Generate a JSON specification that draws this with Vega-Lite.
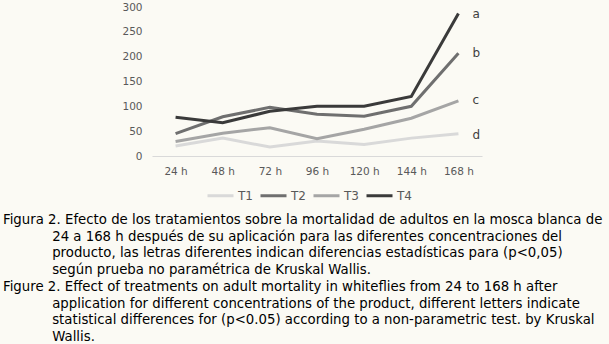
{
  "$schema": "https://vega.github.io/schema/vega-lite/v6.json",
  "width": 330,
  "height": 149,
  "autosize": {"type": "none"},
  "padding": {"left": 152, "top": 7, "right": 127, "bottom": 188},
  "background": "#fbfaf4",
  "config": {
    "view": {"stroke": null},
    "font": "DejaVu Sans",
    "axis": {"labelColor": "#595959", "labelFont": "DejaVu Sans", "labelFontSize": 10.5, "grid": false, "ticks": false, "title": null}
  },
  "title": {
    "text": [
      "Figura 2. Efecto de los tratamientos sobre la mortalidad de adultos en la mosca blanca de",
      "\u200b\u2007\u2007\u2007\u2007\u2007\u00a0\u200924 a 168 h después de su aplicación para las diferentes concentraciones del",
      "\u200b\u2007\u2007\u2007\u2007\u2007\u00a0\u2009producto, las letras diferentes indican diferencias estadísticas para (p<0,05)",
      "\u200b\u2007\u2007\u2007\u2007\u2007\u00a0\u2009según prueba no paramétrica de Kruskal Wallis.",
      "Figure 2. Effect of treatments on adult mortality in whiteflies from 24 to 168 h after",
      "\u200b\u2007\u2007\u2007\u2007\u2007\u00a0\u2009application for different concentrations of the product, different letters indicate",
      "\u200b\u2007\u2007\u2007\u2007\u2007\u00a0\u2009statistical differences for (p<0.05) according to a non-parametric test. by Kruskal",
      "\u200b\u2007\u2007\u2007\u2007\u2007\u00a0\u2009Wallis."
    ],
    "orient": "bottom",
    "anchor": "start",
    "frame": "group",
    "dx": -149,
    "offset": 11,
    "font": "DejaVu Sans",
    "fontSize": 13.3,
    "fontWeight": "normal",
    "color": "#000000",
    "lineHeight": 16.7,
    "baseline": "top"
  },
  "data": {
    "values": [
      {"time": "24 h", "series": "T1", "value": 20},
      {"time": "48 h", "series": "T1", "value": 36},
      {"time": "72 h", "series": "T1", "value": 18},
      {"time": "96 h", "series": "T1", "value": 30},
      {"time": "120 h", "series": "T1", "value": 23},
      {"time": "144 h", "series": "T1", "value": 36},
      {"time": "168 h", "series": "T1", "value": 45},
      {"time": "24 h", "series": "T2", "value": 45},
      {"time": "48 h", "series": "T2", "value": 79},
      {"time": "72 h", "series": "T2", "value": 98},
      {"time": "96 h", "series": "T2", "value": 84},
      {"time": "120 h", "series": "T2", "value": 80},
      {"time": "144 h", "series": "T2", "value": 100},
      {"time": "168 h", "series": "T2", "value": 207},
      {"time": "24 h", "series": "T3", "value": 29},
      {"time": "48 h", "series": "T3", "value": 46},
      {"time": "72 h", "series": "T3", "value": 57},
      {"time": "96 h", "series": "T3", "value": 35},
      {"time": "120 h", "series": "T3", "value": 54},
      {"time": "144 h", "series": "T3", "value": 76},
      {"time": "168 h", "series": "T3", "value": 111},
      {"time": "24 h", "series": "T4", "value": 78},
      {"time": "48 h", "series": "T4", "value": 67},
      {"time": "72 h", "series": "T4", "value": 90},
      {"time": "96 h", "series": "T4", "value": 100},
      {"time": "120 h", "series": "T4", "value": 100},
      {"time": "144 h", "series": "T4", "value": 120},
      {"time": "168 h", "series": "T4", "value": 287}
    ]
  },
  "encoding": {
    "x": {
      "field": "time", "type": "ordinal",
      "sort": ["24 h", "48 h", "72 h", "96 h", "120 h", "144 h", "168 h"],
      "scale": {"type": "point", "padding": 0.5},
      "axis": {"labelAngle": 0, "domainColor": "#d9d9d9", "domainWidth": 1, "labelPadding": 10}
    },
    "y": {
      "field": "value", "type": "quantitative",
      "scale": {"domain": [0, 300], "nice": false},
      "axis": {"values": [0, 50, 100, 150, 200, 250, 300], "domain": false, "labelPadding": 10}
    }
  },
  "layer": [
    {
      "mark": {"type": "line", "strokeWidth": 3},
      "encoding": {
        "color": {
          "field": "series", "type": "nominal",
          "scale": {"domain": ["T1", "T2", "T3", "T4"], "range": ["#d9d9d9", "#6f6f6f", "#a5a5a5", "#3a3a3a"]},
          "legend": {
            "title": null, "orient": "none", "direction": "horizontal",
            "legendX": 54, "legendY": 174,
            "symbolType": "stroke", "symbolSize": 676, "symbolStrokeWidth": 3,
            "labelFontSize": 12, "labelColor": "#595959", "labelOffset": 3,
            "columnPadding": 1
          }
        }
      }
    },
    {
      "data": {
        "values": [
          {"time": "168 h", "value": 285, "letter": "a"},
          {"time": "168 h", "value": 207, "letter": "b"},
          {"time": "168 h", "value": 113, "letter": "c"},
          {"time": "168 h", "value": 43, "letter": "d"}
        ]
      },
      "mark": {"type": "text", "dx": 14, "align": "left", "fontSize": 12, "fill": "#404040"},
      "encoding": {"text": {"field": "letter"}}
    }
  ]
}
